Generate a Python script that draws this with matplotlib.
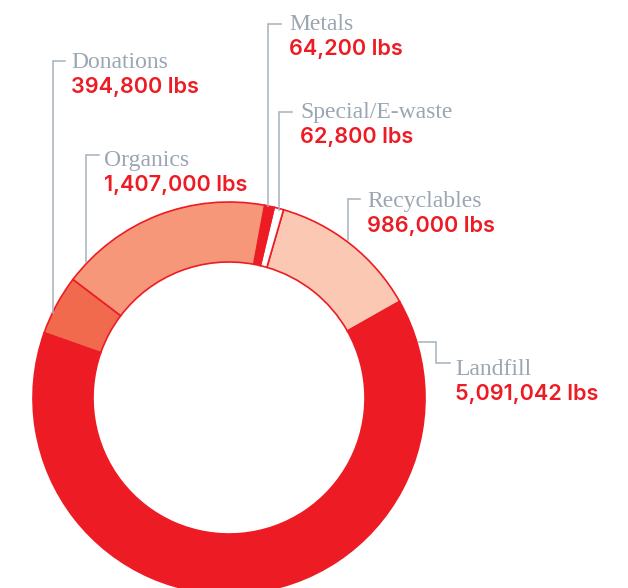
import matplotlib.pyplot as plt

# data
labels = ['Recyclables', 'Special/E-waste', 'Metals', 'Organics', 'Donations', 'Landfill']
values = [986000, 62800, 64200, 1407000, 394800, 5091042]
value_text = ['986,000 lbs', '62,800 lbs', '64,200 lbs', '1,407,000 lbs', '394,800 lbs', '5,091,042 lbs']
colors = ['#FBC8B3', '#FFFFFF', '#ED1C24', '#F7977A', '#F16A4E', '#ED1C24']

RED = '#ED1C24'
GREY = '#9BA6B2'
W, H = 628, 588

# label anchors (left x, name baseline y) in pixels from top-left
label_pos = {
    'Recyclables': (367, 207),
    'Special/E-waste': (300, 118),
    'Metals': (289, 30),
    'Organics': (104, 166),
    'Donations': (71, 68),
    'Landfill': (455, 375),
}
# leader lines as pixel polylines
leaders = {
    'Recyclables': [(360, 199), (348, 199), (348, 240)],
    'Special/E-waste': [(292, 112), (279, 112), (279, 210)],
    'Metals': [(281, 24), (268, 24), (268, 206)],
    'Organics': [(99, 155), (86, 155), (86, 262)],
    'Donations': [(65, 61), (53, 61), (53, 313)],
    'Landfill': [(419, 342), (436, 342), (436, 363), (450, 363)],
}

fig = plt.figure(figsize=(W / 100, H / 100), dpi=100)
ax = fig.add_axes([0, 0, 1, 1])

def fy(y):
    return H - y

ax.pie(values, colors=colors, radius=196, center=(229, fy(398)),
       startangle=29.5, counterclock=True,
       wedgeprops=dict(width=60, edgecolor=RED, linewidth=1.2))

for name, pts in leaders.items():
    xs = [p[0] for p in pts]
    ys = [fy(p[1]) for p in pts]
    ax.plot(xs, ys, color='#A7B1BB', lw=1.1, solid_joinstyle='miter')

for name, vt in zip(labels, value_text):
    x, y = label_pos[name]
    ax.text(x, fy(y), name, family='Liberation Serif', fontsize=17,
            color=GREY, va='baseline', ha='left')
    ax.text(x, fy(y + 25), vt, family=['Inter', 'DejaVu Sans'], fontsize=15.6,
            fontweight='semibold', color=RED, va='baseline', ha='left')

ax.set_xlim(0, W)
ax.set_ylim(0, H)
ax.set_aspect('equal')
ax.axis('off')

fig.savefig('out.png', dpi=100)
